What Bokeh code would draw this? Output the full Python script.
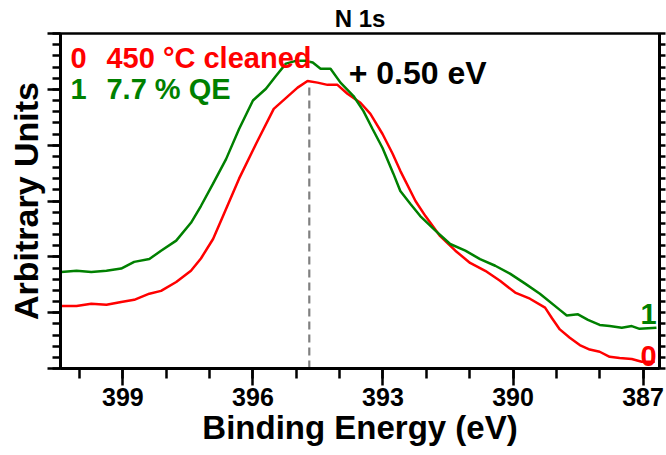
from bokeh.plotting import figure
from bokeh.models import Range1d, LinearAxis, SingleIntervalTicker, Label, CustomJSTickFormatter
from bokeh.embed import file_html
from bokeh.resources import INLINE

# ---- data ----
green_ev = [400.42, 400.07, 399.73, 399.38, 399.04, 398.74, 398.39, 398.12, 397.77, 397.43,
            397.20, 396.92, 396.62, 396.32, 396.00, 395.70, 395.47, 395.24, 395.01, 394.78,
            394.62, 394.44, 394.21, 393.98, 393.68, 393.45, 393.24, 393.01, 392.76, 392.60,
            392.37, 392.14, 391.79, 391.45, 391.10, 390.76, 390.41, 390.07, 389.72, 389.38,
            388.92, 388.76, 388.50, 388.27, 388.00, 387.77, 387.49, 387.26, 387.08, 386.69]
green_val = [1.73, 1.75, 1.73, 1.75, 1.79, 1.91, 1.96, 2.11, 2.29, 2.61,
             2.91, 3.31, 3.75, 4.29, 4.80, 5.01, 5.24, 5.46, 5.51, 5.51,
             5.48, 5.37, 5.37, 5.12, 4.88, 4.61, 4.29, 3.95, 3.49, 3.18,
             2.95, 2.73, 2.47, 2.23, 2.11, 1.96, 1.84, 1.70, 1.52, 1.34,
             1.05, 0.95, 0.97, 0.87, 0.78, 0.76, 0.73, 0.76, 0.71, 0.73]

red_ev = [400.42, 400.07, 399.73, 399.38, 399.04, 398.74, 398.39, 398.12, 397.77, 397.43,
          397.20, 396.92, 396.69, 396.32, 395.93, 395.52, 394.97, 394.74, 394.51, 394.28,
          394.05, 393.82, 393.52, 393.29, 393.01, 392.78, 392.60, 392.25, 392.02, 391.68,
          391.33, 390.99, 390.64, 390.30, 389.95, 389.61, 389.26, 389.10, 388.92, 388.69,
          388.46, 388.23, 388.00, 387.77, 387.54, 387.26, 387.03, 386.73]
red_val = [1.12, 1.12, 1.16, 1.14, 1.19, 1.23, 1.34, 1.39, 1.55, 1.75,
           1.97, 2.32, 2.73, 3.40, 4.02, 4.65, 5.03, 5.15, 5.12, 5.08,
           5.08, 4.92, 4.76, 4.56, 4.20, 3.85, 3.54, 3.00, 2.73, 2.37,
           2.11, 1.89, 1.75, 1.57, 1.36, 1.25, 1.09, 0.90, 0.70, 0.55,
           0.42, 0.34, 0.30, 0.21, 0.19, 0.17, 0.12, 0.12]

peak_ev = 394.70
peak_top = 5.10

x_start, x_end = 400.44, 386.62
y_start, y_end = 0.0, 6.0

title_text = "N 1s"
x_label = "Binding Energy (eV)"
y_label = "Arbitrary Units"
series_names = ["450 °C cleaned", "7.7 % QE"]
series_ids = ["0", "1"]
shift_text = "+ 0.50 eV"

RED = "#ff0000"
GREEN = "#008000"
FONT = "Liberation Sans"

p = figure(frame_width=599, frame_height=335, output_backend="svg", toolbar_location=None,
           x_range=Range1d(x_start, x_end), y_range=Range1d(y_start, y_end),
           x_axis_location=None, y_axis_location=None,
           min_border_left=60, min_border_right=7, min_border_bottom=87, min_border_top=33)

p.title.text = title_text
p.title.align = "center"
p.title.text_font = FONT
p.title.text_font_size = "24px"
p.title.text_font_style = "bold"
p.title.text_color = "black"
p.title.standoff = 4

p.xgrid.visible = False
p.ygrid.visible = False
p.outline_line_color = "black"
p.outline_line_width = 2.5
p.background_fill_color = "white"
p.border_fill_color = "white"

blank = CustomJSTickFormatter(code="return ''")

# bottom axis
xa = LinearAxis(ticker=SingleIntervalTicker(interval=3, num_minor_ticks=3),
                axis_label=x_label)
xa.axis_line_width = 3
xa.major_tick_line_width = 2.5
xa.minor_tick_line_width = 2.5
xa.major_tick_out = 17
xa.major_tick_in = 0
xa.minor_tick_out = 10
xa.minor_tick_in = 0
xa.major_label_text_font = FONT
xa.major_label_text_font_style = "bold"
xa.major_label_text_font_size = "25px"
xa.major_label_text_color = "black"
xa.major_label_standoff = 2
xa.axis_label_text_font = FONT
xa.axis_label_text_font_style = "bold"
xa.axis_label_text_font_size = "33px"
xa.axis_label_text_color = "black"
xa.axis_label_standoff = 0
p.add_layout(xa, "below")

# left axis (ticks only)
ya = LinearAxis(ticker=SingleIntervalTicker(interval=1, num_minor_ticks=5),
                formatter=blank, axis_label=y_label)
ya.axis_line_width = 3
ya.major_tick_line_width = 2.5
ya.minor_tick_line_width = 2.5
ya.major_tick_out = 13
ya.major_tick_in = 0
ya.minor_tick_out = 8
ya.minor_tick_in = 0
ya.major_label_standoff = 0
ya.axis_label_text_font = FONT
ya.axis_label_text_font_style = "bold"
ya.axis_label_text_font_size = "34px"
ya.axis_label_text_color = "black"
ya.axis_label_standoff = 3
p.add_layout(ya, "left")

# right axis (ticks only)
ra = LinearAxis(ticker=SingleIntervalTicker(interval=0.2, num_minor_ticks=0),
                formatter=blank)
ra.axis_line_width = 3
ra.major_tick_line_width = 2.5
ra.major_tick_out = 6
ra.major_tick_in = 0
ra.minor_tick_line_color = None
ra.major_label_standoff = 0
p.add_layout(ra, "right")

# curves
p.line(red_ev, red_val, line_color=RED, line_width=2.5)
p.line(green_ev, green_val, line_color=GREEN, line_width=2.5)

# dashed peak marker
p.segment(x0=[peak_ev], y0=[y_start], x1=[peak_ev], y1=[peak_top],
          line_color="#808080", line_width=2.2, line_dash="8 5")

def lab(x, y, text, color, size="29px", align="left"):
    p.add_layout(Label(x=x, y=y, text=text, text_color=color, text_font=FONT,
                       text_font_style="bold", text_font_size=size,
                       text_align=align, text_baseline="middle"))

# legend and annotations
lab(400.21, 5.56, series_ids[0], RED)
lab(399.38, 5.56, series_names[0], RED)
lab(400.21, 5.01, series_ids[1], GREEN)
lab(399.38, 5.01, series_names[1], GREEN)
lab(393.79, 5.30, shift_text, "black", "32px")
lab(386.87, 0.97, series_ids[1], GREEN, "29px", "center")
lab(386.87, 0.22, series_ids[0], RED, "29px", "center")

open("out.html", "w").write(file_html(p, INLINE))
